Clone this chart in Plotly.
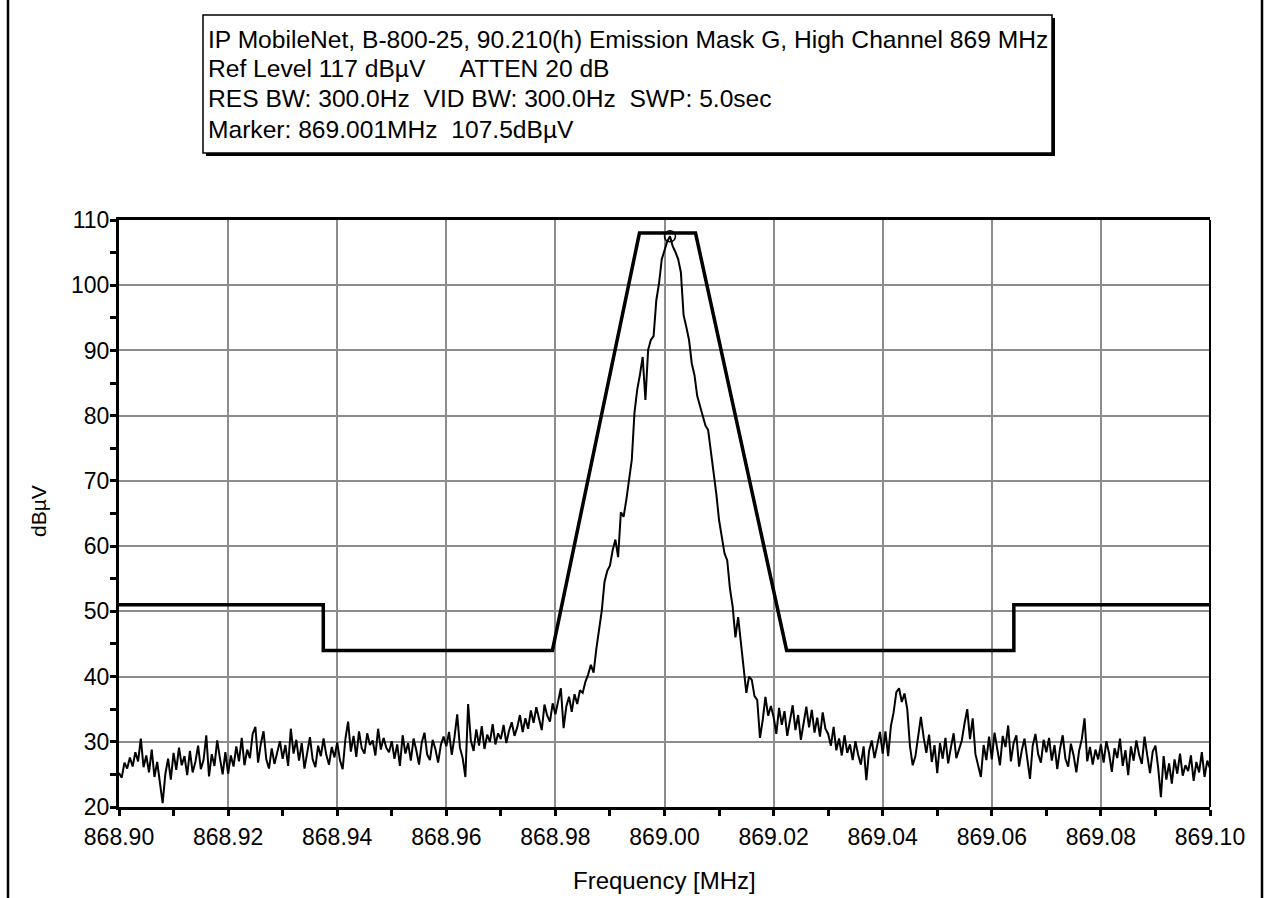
import numpy as np
import plotly.graph_objects as go

# ---------------- data ----------------
# Emission mask G (breakpoints)
mask_freq = [868.900, 868.93745, 868.93745, 868.97945, 868.99541, 869.00569, 869.02239, 869.06404, 869.06404, 869.100]
mask_level = [51.0, 51.0, 44.0, 44.0, 108.0, 108.0, 44.0, 44.0, 51.0, 51.0]

trace_level = [
    25.2, 24.5, 26.8, 25.9, 27.6, 26.2, 28.4, 27.0, 30.5, 26.1, 27.9, 25.3, 28.8, 24.6, 26.9, 23.8, 20.6, 25.1, 27.4, 24.2,
    28.3, 25.7, 29.1, 26.4, 27.8, 24.9, 28.6, 25.3, 26.9, 29.4, 25.8, 27.2, 31.0, 24.7, 28.1, 26.3, 30.2, 27.5, 25.0, 28.4,
    25.1, 27.9, 26.2, 29.3, 27.0, 30.6, 26.4, 28.8, 27.5, 31.2, 32.3, 26.8, 29.7, 31.6, 27.3, 25.9, 29.0, 26.6, 28.5, 30.1,
    27.4, 29.5, 26.3, 32.0, 28.2, 30.3, 27.1, 29.8, 25.9, 28.6, 30.7, 27.3, 26.1, 29.4, 27.8, 30.5, 28.0, 26.5, 29.2, 27.6,
    29.9, 27.2, 25.8, 30.4, 33.1, 28.5, 30.9, 27.7, 31.6, 29.0, 28.2, 31.3, 29.5, 30.2, 27.9, 32.0, 28.8, 30.6, 29.1, 28.4,
    30.1, 27.4, 29.6, 26.3, 31.0, 28.2, 29.8, 27.1, 30.5, 28.7, 26.5, 29.9, 31.4, 28.0, 27.2, 30.3, 28.9, 26.8, 29.5, 30.8,
    29.3, 31.5, 28.0, 30.7, 34.2, 29.1, 27.5, 24.6, 35.8, 30.2, 28.6, 31.9, 29.4, 32.4, 28.9, 31.1, 30.0, 32.7, 29.6, 31.3,
    30.4, 32.6, 29.8, 31.7, 33.0, 30.9, 32.2, 34.1, 31.5, 33.6, 32.0, 34.8, 32.9, 35.3, 33.4, 31.8, 35.7, 34.0, 33.1, 35.9,
    34.2, 36.5, 38.2, 32.1, 35.4, 36.9, 34.6, 37.3, 35.8, 37.9, 37.5, 39.2, 40.3, 41.8, 40.6, 44.2, 46.8, 50.1, 54.5, 56.2,
    57.0, 59.4, 61.0, 58.3, 65.2, 64.5, 67.1, 70.0, 73.2, 80.5, 84.0, 86.3, 89.0, 82.4, 90.1, 91.6, 92.2, 97.7, 100.3, 104.0,
    105.4, 106.7, 107.5, 106.0, 105.1, 104.0, 102.0, 95.4, 93.6, 91.6, 88.0, 86.2, 83.0, 81.5, 79.8, 78.5, 77.8, 74.5, 72.0, 68.0,
    64.0, 61.4, 58.9, 57.8, 53.5, 50.7, 46.0, 49.1, 45.0, 42.0, 37.5, 40.0, 39.5, 37.0, 36.4, 30.6, 33.3, 36.9, 34.0, 35.5,
    33.8, 31.2, 35.2, 32.6, 34.7, 30.9, 33.5, 35.6, 31.8, 34.1, 30.3, 33.0, 35.4, 32.2, 34.9, 31.4, 33.7, 30.8, 34.5, 32.0,
    31.2, 29.4, 32.3, 28.7, 30.5, 27.9, 31.0, 28.3, 29.6, 27.2, 30.1, 28.0, 26.5, 29.3, 24.1, 28.6, 30.2, 27.5, 29.8, 31.5,
    28.2, 31.6, 27.8, 32.4, 34.5, 37.6, 38.2, 36.1, 37.4, 35.0, 29.3, 26.4, 27.8, 31.2, 33.8, 30.7, 28.3, 31.1, 26.9, 29.5,
    25.2, 29.8, 27.4, 30.6, 26.7, 29.1, 31.3, 27.5, 28.9, 30.2, 32.8, 35.0, 30.4, 33.6, 28.1, 26.3, 24.6, 29.5, 27.2, 30.8,
    27.3, 31.4, 28.6, 26.4, 30.9, 29.2, 32.5, 27.0, 29.8, 31.0, 26.2, 28.7, 30.5, 27.6, 24.3, 29.4, 31.2, 28.1, 26.8, 30.3,
    28.4, 30.6, 27.1, 29.5, 25.8, 28.9, 31.0, 27.4, 26.2, 29.7, 27.9, 25.3, 28.6, 30.4, 33.6, 27.0, 29.2, 26.5, 28.8, 27.3,
    29.6, 26.8, 30.1, 28.2, 25.4, 29.0, 27.5, 30.5, 26.3, 28.7, 24.9, 29.3, 27.1, 30.2, 28.0, 26.6, 30.8, 27.9, 25.2, 28.5,
    29.4, 26.0, 21.5, 27.8, 24.2, 26.7, 23.6, 27.3, 25.1, 28.2, 24.8, 26.4, 25.5, 27.9, 24.0, 26.9, 25.3, 28.4, 24.6, 27.1, 25.9,
]
sweep_start = 868.90
sweep_stop = 869.10
trace_freq = np.linspace(sweep_start, sweep_stop, len(trace_level))

marker_freq = [869.001]
marker_level = [107.5]

x_tickvals = [868.90, 868.92, 868.94, 868.96, 868.98, 869.00, 869.02, 869.04, 869.06, 869.08, 869.10]
x_ticktext = ["868.90", "868.92", "868.94", "868.96", "868.98", "869.00", "869.02", "869.04", "869.06", "869.08", "869.10"]
y_tickvals = [20, 30, 40, 50, 60, 70, 80, 90, 100, 110]

NB = "\u00a0"
header_lines = [
    "IP MobileNet, B-800-25, 90.210(h) Emission Mask G, High Channel 869 MHz",
    "Ref Level 117 dBµV" + NB * 5 + "ATTEN 20 dB",
    "RES BW: 300.0Hz" + NB * 2 + "VID BW: 300.0Hz" + NB * 2 + "SWP: 5.0sec",
    "Marker: 869.001MHz" + NB * 2 + "107.5dBµV",
]

# ---------------- layout helpers (pixel -> paper) ----------------
L, R, T, B = 119, 1210, 220, 807
W, H = 1270, 898


def px(x):
    return (x - L) / (R - L)


def py(y):
    return (B - y) / (B - T)


FONT = "Arial, Liberation Sans, sans-serif"

fig = go.Figure()
fig.add_trace(go.Scatter(x=trace_freq, y=trace_level, mode="lines",
                         line=dict(color="black", width=2), hoverinfo="skip"))
fig.add_trace(go.Scatter(x=mask_freq, y=mask_level, mode="lines",
                         line=dict(color="black", width=3.5), hoverinfo="skip"))
fig.add_trace(go.Scatter(x=marker_freq, y=marker_level, mode="markers",
                         marker=dict(symbol="circle-open", size=11, color="black", line=dict(width=1.5)),
                         hoverinfo="skip"))

fig.update_layout(
    width=W, height=H, autosize=False,
    margin=dict(l=L, r=W - R, t=T, b=H - B, pad=0),
    paper_bgcolor="white", plot_bgcolor="white",
    showlegend=False,
    font=dict(family=FONT, color="black", size=24),
)

fig.update_xaxes(
    range=[sweep_start, sweep_stop],
    tickvals=x_tickvals, ticktext=x_ticktext,
    tickfont=dict(family=FONT, size=23, color="black"),
    showgrid=True, gridcolor="#8c8c8c", gridwidth=1.5,
    showline=True, linecolor="black", linewidth=3, mirror=True,
    ticks="outside", ticklen=6, tickwidth=3, tickcolor="black",
    minor=dict(dtick=0.01, tick0=868.90, ticks="outside", ticklen=6, tickwidth=3, tickcolor="black", showgrid=False),
    ticklabelstandoff=1,
    zeroline=False,
)
fig.update_yaxes(
    range=[20, 110],
    tickvals=y_tickvals,
    tickfont=dict(family=FONT, size=23, color="black"),
    showgrid=True, gridcolor="#8c8c8c", gridwidth=1.5,
    showline=True, linecolor="black", linewidth=3, mirror=False,
    ticks="outside", ticklen=6, tickwidth=3, tickcolor="black",
    minor=dict(dtick=5, tick0=20, ticks="outside", ticklen=6, tickwidth=3, tickcolor="black", showgrid=False),
    ticklabelstandoff=-4,
    zeroline=False,
)

shapes = [
    # right border of plot (thinner)
    dict(type="line", xref="paper", yref="paper", x0=1, x1=1, y0=0, y1=1,
         line=dict(color="black", width=2)),
    # outer frame lines
    dict(type="line", xref="paper", yref="paper", x0=px(8), x1=px(8), y0=py(0), y1=py(898),
         line=dict(color="black", width=2.5)),
    dict(type="line", xref="paper", yref="paper", x0=px(1262), x1=px(1262), y0=py(0), y1=py(898),
         line=dict(color="black", width=2.5)),
    # header box shadow + box
    dict(type="rect", xref="paper", yref="paper", x0=px(206), x1=px(1055), y0=py(156), y1=py(18),
         fillcolor="black", line=dict(width=0)),
    dict(type="rect", xref="paper", yref="paper", x0=px(203), x1=px(1052), y0=py(153), y1=py(15),
         fillcolor="white", line=dict(color="black", width=1.5)),
]
fig.update_layout(shapes=shapes)

annotations = []
for i, line in enumerate(header_lines):
    annotations.append(dict(text=line, xref="paper", yref="paper", x=px(206), y=py(39 + 30 * i),
                            xanchor="left", yanchor="middle", showarrow=False,
                            font=dict(family=FONT, size=24.6, color="black")))
annotations.append(dict(text="Frequency [MHz]", xref="paper", yref="paper", x=0.5, y=py(880),
                        xanchor="center", yanchor="middle", showarrow=False,
                        font=dict(family=FONT, size=24, color="black")))
annotations.append(dict(text="dBµV", xref="paper", yref="paper", x=px(38), y=py(511),
                        xanchor="center", yanchor="middle", showarrow=False, textangle=-90,
                        font=dict(family=FONT, size=21, color="black")))
fig.update_layout(annotations=annotations)

fig.write_html("out.html")
